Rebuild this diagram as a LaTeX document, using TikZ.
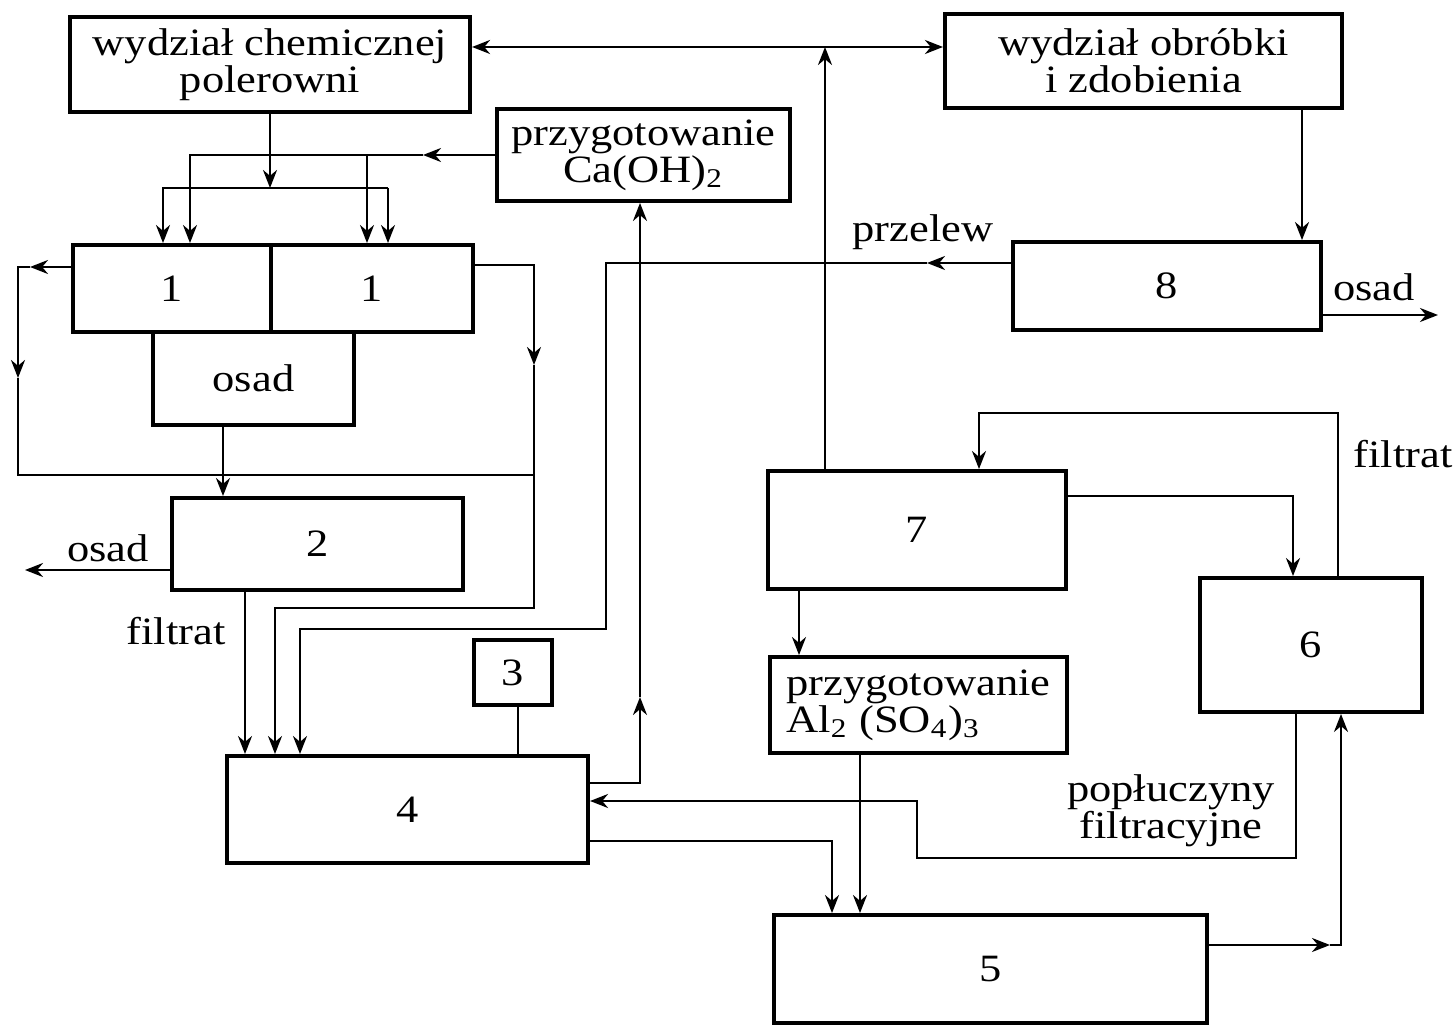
\documentclass[tikz,border=0pt]{standalone}
\usepackage{fontspec}
\setmainfont{Liberation Serif}[FakeStretch=1.15]
\usetikzlibrary{
    arrows.meta,
    positioning,
    calc
}
\tikzstyle{unit} = [
    rectangle,
    draw,
    line width=1.1pt,
    inner sep=2pt,
    align=center,
    font=\fontsize{11}{10.5}\selectfont
]
\tikzstyle{lbl} = [
    inner sep=1pt,
    align=center,
    font=\fontsize{11}{10.5}\selectfont
]
\tikzstyle{pipe} = [
    line width=0.7pt
]
\tikzstyle{flow} = [
    ->,
    >={Stealth[length=1.8mm,width=1.4mm]},
    line width=0.7pt
]

\begin{document}
\begin{tikzpicture}[x=0.01cm, y=-0.01cm]
        \useasboundingbox (0,0) rectangle (1455,1025);

        % Departments
        \node[unit, minimum width=4cm, minimum height=0.95cm] (chem) at (270,64.5) {
            wydział chemicznej\\polerowni
        };
        \node[unit, minimum width=3.97cm, minimum height=0.94cm] (obr) at (1143.5,61) {
            wydział obróbki\\i zdobienia
        };

        % Reagent preparation
        \node[unit, minimum width=2.93cm, minimum height=0.92cm] (caoh) at (643.5,155) {
            przygotowanie\\Ca(OH)\textsubscript{2}
        };
        \node[unit, align=left, minimum width=2.97cm, minimum height=0.96cm] (alsul) at (918.5,705) {
            przygotowanie\\Al\textsubscript{2} (SO\textsubscript{4})\textsubscript{3}
        };

        % Tanks, left part
        \node[unit, minimum width=1.98cm, minimum height=0.87cm] (tankL) at (172,288.5) {1};
        \node[unit, minimum width=2.02cm, minimum height=0.87cm] (tankR) at (372,288.5) {1};
        \node[unit, minimum width=2.01cm, minimum height=0.93cm] (sludge) at (253.5,378.5) {osad};
        \node[unit, minimum width=2.91cm, minimum height=0.92cm] (b2) at (317.5,544) {2};
        \node[unit, minimum width=0.78cm, minimum height=0.65cm] (b3) at (513,672.5) {3};
        \node[unit, minimum width=3.61cm, minimum height=1.07cm] (b4) at (407.5,809.5) {4};

        % Tanks, right part
        \node[unit, minimum width=4.33cm, minimum height=1.08cm] (b5) at (990.5,969) {5};
        \node[unit, minimum width=2.22cm, minimum height=1.34cm] (b6) at (1311,645) {6};
        \node[unit, minimum width=2.98cm, minimum height=1.18cm] (b7) at (917,530) {7};
        \node[unit, minimum width=3.08cm, minimum height=0.88cm] (b8) at (1167,286) {8};

        % Labels
        \node[lbl] (przelew) at (923,232) {przelew};
        \node[lbl] (osad8) at (1374,287) {osad};
        \node[lbl] (osad2) at (108,548) {osad};
        \node[lbl] (filtrat2) at (176,631) {filtrat};
        \node[lbl] (filtrat6) at (1403,454) {filtrat};
        \node[lbl] (rinse) at (1171,811) {popłuczyny\\filtracyjne};

        % Bends of the pipes
        \coordinate (top) at (825,47);
        \coordinate (o8) at (1302,175);
        \coordinate (cam) at (423,155);
        \coordinate (ca) at (190,155);
        \coordinate (ca2) at (367,155);
        \coordinate (feed) at (163,188);
        \coordinate (feed2) at (388,188);
        \coordinate (lkm) at (30,267);
        \coordinate (lk) at (18,267);
        \coordinate (lkd) at (18,378);
        \coordinate (lk2) at (18,475);
        \coordinate (rk) at (534,265);
        \coordinate (rkd) at (534,365);
        \coordinate (rk2) at (534,608);
        \coordinate (rk3) at (275,608);
        \coordinate (pzm) at (927,263);
        \coordinate (pz) at (606,263);
        \coordinate (pz2) at (606,629);
        \coordinate (pz3) at (300,629);
        \coordinate (out8) at (1438,315);
        \coordinate (lime) at (640,783);
        \coordinate (limem) at (640,697);
        \coordinate (s2) at (223,460);
        \coordinate (out2) at (25,570);
        \coordinate (f2) at (245,620);
        \coordinate (d3) at (518,730);
        \coordinate (a7) at (799,620);
        \coordinate (s7) at (1293,496);
        \coordinate (fb) at (979,413);
        \coordinate (fb2) at (1338,413);
        \coordinate (a5) at (860,830);
        \coordinate (w4) at (832,841);
        \coordinate (rin) at (917,801);
        \coordinate (rin2) at (917,858);
        \coordinate (rin3) at (1296,858);
        \coordinate (r56m) at (1330,945);
        \coordinate (r56) at (1341,945);

        % Top line
        \draw[flow, <->] (top -| chem.east) -- (top -| obr.west);
        \draw[flow] (b7.north -| top) -- (top);
        \draw[flow] (obr.south -| o8) -- (b8.north -| o8);

        % Feed of the tanks
        \draw[flow] (chem.south) -- (chem.south |- feed);
        \draw[flow] (feed2) -- (feed) -- (tankL.north -| feed);
        \draw[flow] (feed2) -- (tankR.north -| feed2);
        \draw[flow] (caoh.west) -- (cam);
        \draw[flow] (cam) -- (ca) -- (tankL.north -| ca);
        \draw[flow] (ca2) -- (tankR.north -| ca2);

        % Outlets of the tanks
        \draw[flow] (tankL.west |- lk) -- (lkm);
        \draw[flow] (lkm) -- (lk) -- (lkd);
        \draw[pipe] (lkd) -- (lk2) -- (lk2 -| rk);
        \draw[flow] (tankR.east |- rk) -- (rk) -- (rkd);
        \draw[flow] (rkd) -- (rk2) -- (rk3) -- (b4.north -| rk3);
        \draw[flow] (sludge.south -| s2) -- (b2.north -| s2);
        \draw[flow] (b2.west |- out2) -- (out2);
        \draw[flow] (b2.south -| f2) -- (b4.north -| f2);
        \draw[pipe] (b3.south -| d3) -- (b4.north -| d3);

        % Overflow of 8
        \draw[flow] (b8.west |- pz) -- (pzm);
        \draw[flow] (pzm) -- (pz) -- (pz2) -- (pz3) -- (b4.north -| pz3);
        \draw[flow] (b8.east |- out8) -- (out8);

        % Lime back to preparation
        \draw[flow] (b4.east |- lime) -- (lime) -- (limem);
        \draw[flow] (limem) -- (caoh.south -| lime);

        % Right part
        \draw[flow] (b7.south -| a7) -- (alsul.north -| a7);
        \draw[flow] (b7.east |- s7) -- (s7) -- (b6.north -| s7);
        \draw[flow] (b6.north -| fb2) -- (fb2) -- (fb) -- (b7.north -| fb);
        \draw[flow] (alsul.south -| a5) -- (b5.north -| a5);
        \draw[flow] (b4.east |- w4) -- (w4) -- (b5.north -| w4);
        \draw[flow] (b6.south -| rin3) -- (rin3) -- (rin2) -- (rin) -- (b4.east |- rin);
        \draw[flow] (b5.east |- r56) -- (r56m);
        \draw[flow] (r56m) -- (r56) -- (b6.south -| r56);
    \end{tikzpicture}
\end{document}
